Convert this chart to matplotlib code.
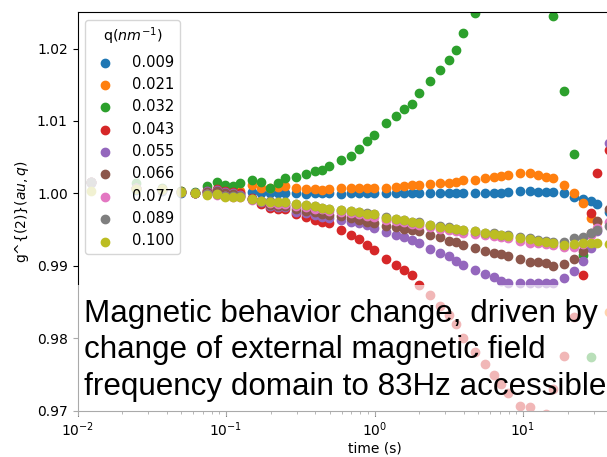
import matplotlib
matplotlib.use('Agg')
import matplotlib.pyplot as plt
import numpy as np

# lag times (s) of the correlator channels
t = [0.0124, 0.0248, 0.0371, 0.0495, 0.0619, 0.0743, 0.0867, 0.0990, 0.1114, 0.1238,
     0.149, 0.173, 0.198, 0.223, 0.248,
     0.297, 0.347, 0.396, 0.446, 0.495,
     0.594, 0.693, 0.792, 0.891, 0.990,
     1.188, 1.386, 1.584, 1.783, 1.981,
     2.377, 2.773, 3.169, 3.565, 3.961,
     4.754, 5.546, 6.338, 7.131, 7.923,
     9.508, 11.09, 12.68, 14.26, 15.85,
     19.02, 22.18, 25.35, 28.52, 31.69,
     38.03]

q_labels = ['0.009', '0.021', '0.032', '0.043', '0.055', '0.066', '0.077', '0.089', '0.100']

g2_009 = [1.0015, 1.0005, 1.0003, 1.0001, 1.0000, 1.0002, 1.0001, 1.0001, 1.0000, 1.0001,
          1.0002, 1.0001, 1.0000, 1.0001, 1.0000,
          1.0000, 0.9999, 1.0000, 1.0000, 1.0000,
          0.9999, 1.0000, 1.0000, 1.0000, 1.0000,
          1.0000, 1.0001, 1.0000, 1.0000, 1.0001,
          1.0001, 1.0001, 1.0001, 1.0001, 1.0001,
          1.0001, 1.0001, 1.0001, 1.0001, 1.0002,
          1.0003, 1.0003, 1.0002, 1.0002, 1.0002,
          1.0000, 0.9995, 0.9992, 0.9989, 0.9986,
          0.9975]

g2_021 = [1.0016, 1.0007, 1.0006, 1.0003, 1.0001, 1.0005, 1.0004, 1.0004, 1.0003, 1.0004,
          1.0011, 1.0007, 1.0008, 1.0009, 1.0010,
          1.0007, 1.0006, 1.0006, 1.0005, 1.0006,
          1.0007, 1.0007, 1.0007, 1.0007, 1.0008,
          1.0008, 1.0009, 1.0010, 1.0011, 1.0012,
          1.0013, 1.0014, 1.0015, 1.0016, 1.0018,
          1.0019, 1.0021, 1.0023, 1.0024, 1.0026,
          1.0028, 1.0028, 1.0025, 1.0023, 1.0021,
          1.0012, 1.0000, 0.9987, 0.9966, 0.9961,
          0.9837]

g2_032 = [1.0016, 1.0015, 1.0008, 1.0003, 1.0002, 1.0010, 1.0016, 1.0012, 1.0010, 1.0014,
          1.0018, 1.0016, 1.0007, 1.0014, 1.0021,
          1.0022, 1.0027, 1.0031, 1.0032, 1.0038,
          1.0046, 1.0051, 1.0062, 1.0072, 1.0081,
          1.0097, 1.0107, 1.0116, 1.0123, 1.0139,
          1.0155, 1.0170, 1.0184, 1.0198, 1.0222,
          1.0249, 1.0290, 1.0330, 1.0370, 1.0400,
          1.0420, 1.0410, 1.0380, 1.0330, 1.0245,
          1.0142, 1.0055, 0.9915, 0.9774, 0.9650,
          0.9600]

g2_043 = [1.0016, 1.0007, 1.0006, 1.0002, 1.0001, 1.0004, 1.0006, 1.0003, 1.0002, 1.0000,
          0.9994, 0.9986, 0.9980, 0.9979, 0.9979,
          0.9972, 0.9968, 0.9964, 0.9961, 0.9959,
          0.9949, 0.9942, 0.9937, 0.9929, 0.9922,
          0.9909, 0.9901, 0.9894, 0.9887, 0.9874,
          0.9860, 0.9845, 0.9832, 0.9820, 0.9800,
          0.9781, 0.9765, 0.9749, 0.9737, 0.9725,
          0.9706, 0.9705, 0.9690, 0.9695, 0.9730,
          0.9775, 0.9830, 0.9887, 0.9973, 1.0028,
          1.0060]

g2_055 = [1.0016, 1.0007, 1.0005, 1.0002, 1.0000, 1.0003, 1.0005, 1.0002, 1.0000, 0.9998,
          0.9992, 0.9988, 0.9982, 0.9981, 0.9981,
          0.9975, 0.9973, 0.9970, 0.9968, 0.9966,
          0.9963, 0.9961, 0.9959, 0.9956, 0.9952,
          0.9947, 0.9943, 0.9940, 0.9936, 0.9931,
          0.9924, 0.9918, 0.9913, 0.9907, 0.9901,
          0.9895, 0.9889, 0.9884, 0.9879, 0.9877,
          0.9876, 0.9876, 0.9876, 0.9876, 0.9876,
          0.9883, 0.9893, 0.9907, 0.9925, 0.9948,
          1.0069]

g2_066 = [1.0016, 1.0007, 1.0005, 1.0002, 1.0000, 1.0002, 1.0004, 1.0001, 0.9999, 0.9997,
          0.9992, 0.9989, 0.9984, 0.9983, 0.9982,
          0.9978, 0.9976, 0.9974, 0.9972, 0.9970,
          0.9969, 0.9966, 0.9964, 0.9961, 0.9959,
          0.9955, 0.9953, 0.9951, 0.9950, 0.9948,
          0.9942, 0.9940, 0.9935, 0.9933, 0.9929,
          0.9925, 0.9921, 0.9918, 0.9916, 0.9913,
          0.9909, 0.9906, 0.9906, 0.9904, 0.9900,
          0.9903, 0.9910, 0.9920, 0.9945, 0.9962,
          0.9978]

g2_077 = [1.0016, 1.0007, 1.0005, 1.0002, 1.0000, 0.9999, 0.9998, 0.9996, 0.9995, 0.9995,
          0.9991, 0.9989, 0.9987, 0.9986, 0.9986,
          0.9982, 0.9981, 0.9979, 0.9978, 0.9976,
          0.9974, 0.9973, 0.9971, 0.9969, 0.9968,
          0.9964, 0.9962, 0.9960, 0.9958, 0.9956,
          0.9953, 0.9951, 0.9950, 0.9948, 0.9946,
          0.9944, 0.9943, 0.9941, 0.9940, 0.9938,
          0.9934, 0.9932, 0.9931, 0.9930, 0.9929,
          0.9926, 0.9926, 0.9930, 0.9942, 0.9952,
          0.9961]

g2_089 = [1.0016, 1.0007, 1.0005, 1.0002, 1.0000, 0.9999, 0.9999, 0.9996, 0.9996, 0.9996,
          0.9992, 0.9990, 0.9989, 0.9988, 0.9988,
          0.9985, 0.9984, 0.9982, 0.9980, 0.9979,
          0.9977, 0.9976, 0.9974, 0.9973, 0.9971,
          0.9967, 0.9965, 0.9963, 0.9961, 0.9960,
          0.9957, 0.9955, 0.9953, 0.9951, 0.9950,
          0.9948, 0.9946, 0.9945, 0.9943, 0.9942,
          0.9940, 0.9938, 0.9936, 0.9934, 0.9933,
          0.9933, 0.9938, 0.9940, 0.9945, 0.9949,
          0.9955]

g2_100 = [1.0003, 1.0006, 1.0006, 1.0002, 1.0000, 0.9998, 0.9999, 0.9995, 0.9995, 0.9995,
          0.9992, 0.9990, 0.9988, 0.9988, 0.9988,
          0.9985, 0.9984, 0.9982, 0.9980, 0.9978,
          0.9977, 0.9976, 0.9974, 0.9972, 0.9971,
          0.9966, 0.9965, 0.9963, 0.9961, 0.9959,
          0.9956, 0.9954, 0.9952, 0.9951, 0.9949,
          0.9948, 0.9946, 0.9944, 0.9943, 0.9941,
          0.9939, 0.9937, 0.9935, 0.9933, 0.9931,
          0.9929, 0.9930, 0.9931, 0.9932, 0.9931,
          0.9930]

g2_all = [g2_009, g2_021, g2_032, g2_043, g2_055, g2_066, g2_077, g2_089, g2_100]

fig = plt.figure(figsize=(6.07, 4.57), dpi=100)
# axes run past the right edge of the figure
ax = fig.add_axes([77.5/607, 46.2/457, 594/607, 398.5/457])

for q, g2 in zip(q_labels, g2_all):
    ax.scatter(t, g2, label=q)

ax.set_xscale('log')
ax.set_xlim(1e-2, 1e2)
ax.set_ylim(0.97, 1.025)
ax.set_yticks([0.97, 0.98, 0.99, 1.00, 1.01, 1.02])
ax.set_xlabel('time (s)', labelpad=2)
ax.set_ylabel('g^{(2)}$(au,q)$')
ax.legend(title='q($nm^{-1}$)', loc='upper left', fontsize=10.6,
          title_fontsize=10.3)

fig.text(84/607, (457 - 299)/457,
         'Magnetic behavior change, driven by\n'
         'change of external magnetic field\n'
         'frequency domain to 83Hz accessible',
         fontsize=22.6, family='Liberation Sans', va='top', ha='left',
         linespacing=1.28,
         bbox=dict(boxstyle='square,pad=0.45', facecolor='white', alpha=0.67,
                   edgecolor='none'))

fig.savefig('out.png', dpi=100)
